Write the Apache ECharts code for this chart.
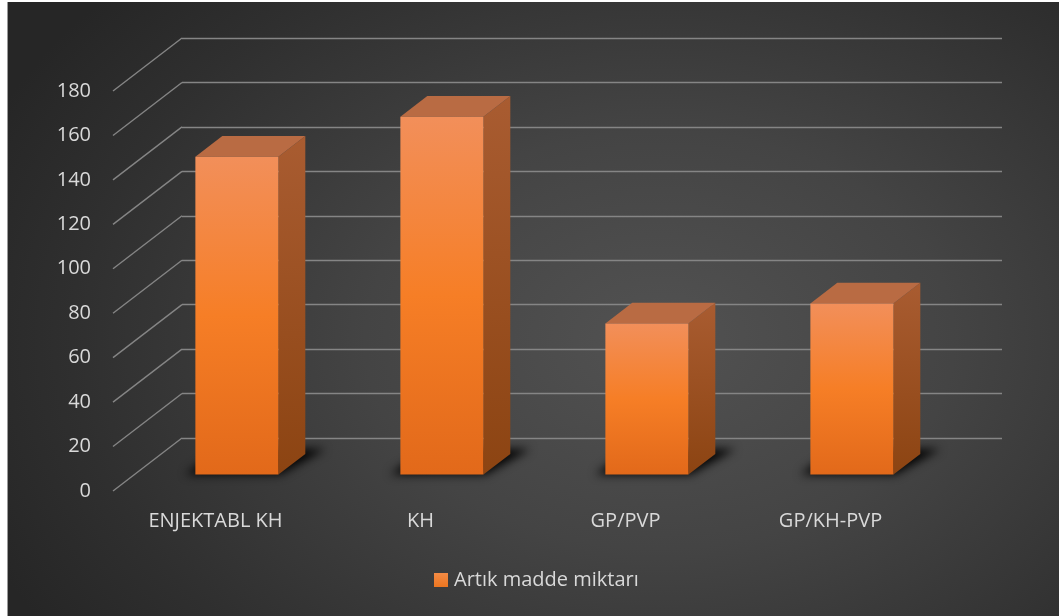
<!DOCTYPE html>
<html>
<head>
<meta charset="utf-8">
<script src="https://cdn.jsdelivr.net/npm/echarts@6/dist/echarts.min.js"></script>
<style>
  html, body { margin: 0; padding: 0; background: #ffffff; }
  #wrap { position: relative; width: 1059px; height: 616px; overflow: hidden; }
  #bg {
    position: absolute; left: 7px; top: 2px; right: 0; bottom: 0;
    border-left: 1px solid #9a9a9a;
    background: radial-gradient(ellipse 70% 85% at 62% 55%, #525252 0%, #444444 40%, #2f2f2f 80%, #262626 100%);
  }
  #chart { position: absolute; left: 0; top: 0; width: 1059px; height: 616px; }
</style>
</head>
<body>
<div id="wrap">
  <div id="bg"></div>
  <div id="chart"></div>
</div>
<script>
// Categories and values
const categories = ['ENJEKTABL KH', 'KH', 'GP/PVP', 'GP/KH-PVP'];
const values = [143, 161, 68, 77];
const seriesName = 'Artık madde miktarı';
// Value axis ticks
const yTicks = [0, 20, 40, 60, 80, 100, 120, 140, 160, 180];

// Oblique depth projection: back wall is shifted by (DX, -DY) from the front plane
const DX = 69, DY = 53;
const F_FRONT = 0.69;   // bar front face, as fraction of depth measured from the back wall
const F_BACK = 0.30;    // bar back face
const BAR_RATIO = 0.405;
const SHADOW_SHIFT = 3000; // floor shadow shape is drawn off-canvas, only its blur lands on the floor

const GRID_LINE = '#858585';
const TEXT = '#D9D9D9';
const FONT = "'Open Sans', 'Noto Sans', sans-serif";

const chart = echarts.init(document.getElementById('chart'), null, { renderer: 'canvas' });

function wallLines(params, api) {
  const t = api.value(1);
  const p = api.coord([0, t]);
  const xb = params.coordSys.x;
  return {
    type: 'line',
    shape: { x1: xb - DX, y1: p[1] + DY, x2: xb, y2: p[1] },
    style: { stroke: GRID_LINE, lineWidth: 1.4 },
    silent: true
  };
}

function bar3d(params, api) {
  const i = api.value(0);
  const v = api.value(1);
  const base = api.coord([i, 0]);
  const top = api.coord([i, v]);
  const band = api.size([1, 0])[0];
  const w = band * BAR_RATIO;
  const fx = -DX * F_FRONT, fy = DY * F_FRONT;
  const bx = -DX * F_BACK, by = DY * F_BACK;
  const xl = base[0] - w / 2, xr = base[0] + w / 2;
  const yt = top[1], yb = base[1];
  const S = SHADOW_SHIFT;

  return {
    type: 'group',
    children: [
      {
        // soft shadow on the floor
        type: 'polygon',
        z2: 0,
        silent: true,
        shape: { points: [
          [xl + fx - 10 + S, yb + fy],
          [xr + fx + 2 + S, yb + fy],
          [xr + bx + 20 + S, yb + by - 5],
          [xl + bx - 2 + S, yb + by - 5]
        ] },
        style: {
          fill: '#000',
          shadowBlur: 10,
          shadowColor: 'rgba(0,0,0,0.95)',
          shadowOffsetX: -S,
          shadowOffsetY: 0
        }
      },
      {
        // right side face
        type: 'polygon',
        z2: 1,
        shape: { points: [
          [xr + fx, yt + fy], [xr + bx, yt + by], [xr + bx, yb + by], [xr + fx, yb + fy]
        ] },
        style: { fill: new echarts.graphic.LinearGradient(0, 0, 0, 1, [
          { offset: 0, color: '#a95c31' },
          { offset: 1, color: '#8c4412' }
        ]) }
      },
      {
        // top face
        type: 'polygon',
        z2: 1,
        shape: { points: [
          [xl + fx, yt + fy], [xr + fx, yt + fy], [xr + bx, yt + by], [xl + bx, yt + by]
        ] },
        style: { fill: '#b96b43' }
      },
      {
        // front face
        type: 'rect',
        z2: 2,
        shape: { x: xl + fx, y: yt + fy, width: w, height: yb - yt },
        style: { fill: new echarts.graphic.LinearGradient(0, 0, 0, 1, [
          { offset: 0, color: '#f28f5a' },
          { offset: 0.5, color: '#f67e26' },
          { offset: 1, color: '#e2691a' }
        ]) }
      }
    ]
  };
}

const option = {
  backgroundColor: 'transparent',
  animation: false,
  textStyle: { fontFamily: FONT },
  legend: {
    data: [seriesName],
    left: 434,
    top: 570,
    padding: 0,
    icon: 'rect',
    itemWidth: 14,
    itemHeight: 14,
    itemGap: 10,
    textStyle: { color: TEXT, fontSize: 20, fontFamily: FONT, padding: [0, 0, 0, 1] }
  },
  grid: [
    // back wall
    { left: 182, right: 57, top: 38, bottom: 178 },
    // front plane
    { left: 182 - DX, right: 57 + DX, top: 38 + DY, bottom: 178 - DY }
  ],
  xAxis: [
    { type: 'category', gridIndex: 0, data: categories, show: false },
    {
      type: 'category', gridIndex: 1, data: categories,
      axisLine: { show: false }, axisTick: { show: false },
      axisLabel: { color: TEXT, fontSize: 20, fontFamily: FONT, margin: 20 }
    }
  ],
  yAxis: [
    {
      type: 'value', gridIndex: 0, min: 0, max: 180, interval: 20,
      axisLine: { show: false }, axisTick: { show: false }, axisLabel: { show: false },
      splitLine: { show: true, lineStyle: { color: GRID_LINE, width: 1.4 } }
    },
    {
      type: 'value', gridIndex: 1, min: 0, max: 180, interval: 20,
      axisLine: { show: false }, axisTick: { show: false }, splitLine: { show: false },
      axisLabel: { color: TEXT, fontSize: 20, fontFamily: FONT, margin: 22 }
    }
  ],
  series: [
    {
      type: 'custom',
      name: 'wall',
      xAxisIndex: 0, yAxisIndex: 0,
      renderItem: wallLines,
      data: yTicks.map(t => [0, t]),
      encode: { x: 0, y: 1 },
      silent: true,
      clip: false,
      z: 1
    },
    {
      type: 'custom',
      name: seriesName,
      xAxisIndex: 0, yAxisIndex: 0,
      renderItem: bar3d,
      data: values.map((v, i) => [i, v]),
      encode: { x: 0, y: 1 },
      clip: false,
      z: 3,
      itemStyle: {
        color: new echarts.graphic.LinearGradient(0, 0, 0, 1, [
          { offset: 0, color: '#f38b45' },
          { offset: 1, color: '#ec7620' }
        ])
      }
    }
  ]
};

chart.setOption(option);
</script>
</body>
</html>
